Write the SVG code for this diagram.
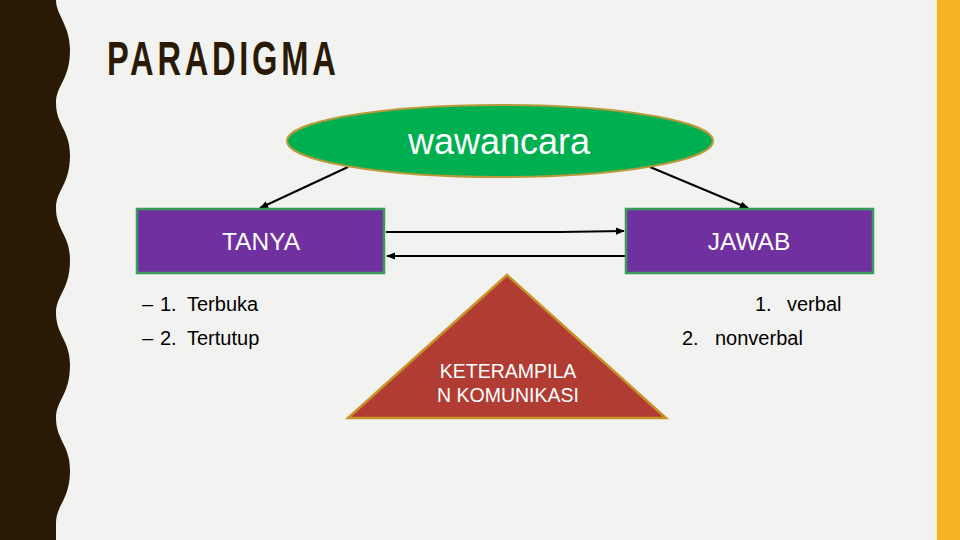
<svg xmlns="http://www.w3.org/2000/svg" width="960" height="540" viewBox="0 0 960 540">
<defs>
<marker id="ah" viewBox="0 0 10 10" refX="9" refY="5" markerWidth="4.5" markerHeight="4.5" orient="auto" markerUnits="strokeWidth">
<path d="M0,1 L10,5 L0,9 Z" fill="#000"/>
</marker>
<style>
.box{fill:#7030A0;stroke:#3A9A5A;stroke-width:2.5}
.wt{fill:#FFFFFF;font-family:"Liberation Sans",Arial,sans-serif;text-anchor:middle}
.bt{fill:#000;font-family:"Liberation Sans",Arial,sans-serif;font-size:20px}
.ln{stroke:#000;stroke-width:2;fill:none;marker-end:url(#ah)}
</style>
</defs>
<rect width="960" height="540" fill="#F2F2F0"/>
<path d="M0,0 L56,0 C56,15 70,25 70,50 C70,80 56,85 56,103 C56,125 70,130 70,155 C70,185 56,190 56,208 C56,230 70,235 70,260 C70,290 56,295 56,313 C56,335 70,340 70,365 C70,395 56,400 56,418 C56,440 70,445 70,470 C70,500 56,505 56,523 L56,540 L0,540 Z" fill="#2A1A05"/>
<rect x="935" y="0" width="2" height="540" fill="#FBEFC8"/>
<rect x="937" y="0" width="23" height="540" fill="#F7B325"/>
<g transform="translate(107,75) scale(0.68,1)">
<text x="0" y="0" font-family="'Liberation Sans',Arial,sans-serif" font-weight="bold" font-size="48" letter-spacing="5.5" fill="#2A1A05">PARADIGMA</text>
</g>
<g id="connectors">
<line class="ln" x1="348" y1="167" x2="260" y2="208"/>
<line class="ln" x1="650" y1="167" x2="748" y2="208"/>
<polyline class="ln" points="386,232 560,232 624,231"/>
<line class="ln" x1="627" y1="256" x2="387" y2="256"/>
</g>
<g id="wawancara">
<ellipse cx="500" cy="141" rx="213" ry="36" fill="#00B050" stroke="#B89A3A" stroke-width="2"/>
<text class="wt" x="499" y="154" font-size="36" fill="#E8F8EC">wawancara</text>
</g>
<g id="tanya">
<rect class="box" x="137" y="209" width="247" height="64"/>
<text class="wt" x="261" y="250" font-size="24.5">TANYA</text>
</g>
<g id="jawab">
<rect class="box" x="626" y="209" width="247" height="64"/>
<text class="wt" x="749" y="250" font-size="24.5">JAWAB</text>
</g>
<g id="keterampilan">
<polygon points="507,275 348,418 666,418" fill="#B03C33" stroke="#C8922A" stroke-width="2.5"/>
<text class="wt" x="508" y="378" font-size="19.5">KETERAMPILA</text>
<text class="wt" x="508" y="402" font-size="19.5">N KOMUNIKASI</text>
</g>
<g id="tanya-list">
<text class="bt" x="142" y="311">–</text>
<text class="bt" x="160" y="311">1.</text>
<text class="bt" x="187" y="311">Terbuka</text>
<text class="bt" x="142" y="345">–</text>
<text class="bt" x="160" y="345">2.</text>
<text class="bt" x="187" y="345">Tertutup</text>
</g>
<g id="jawab-list">
<text class="bt" x="755" y="311">1.</text>
<text class="bt" x="787" y="311">verbal</text>
<text class="bt" x="682" y="345">2.</text>
<text class="bt" x="715" y="345">nonverbal</text>
</g>
</svg>
